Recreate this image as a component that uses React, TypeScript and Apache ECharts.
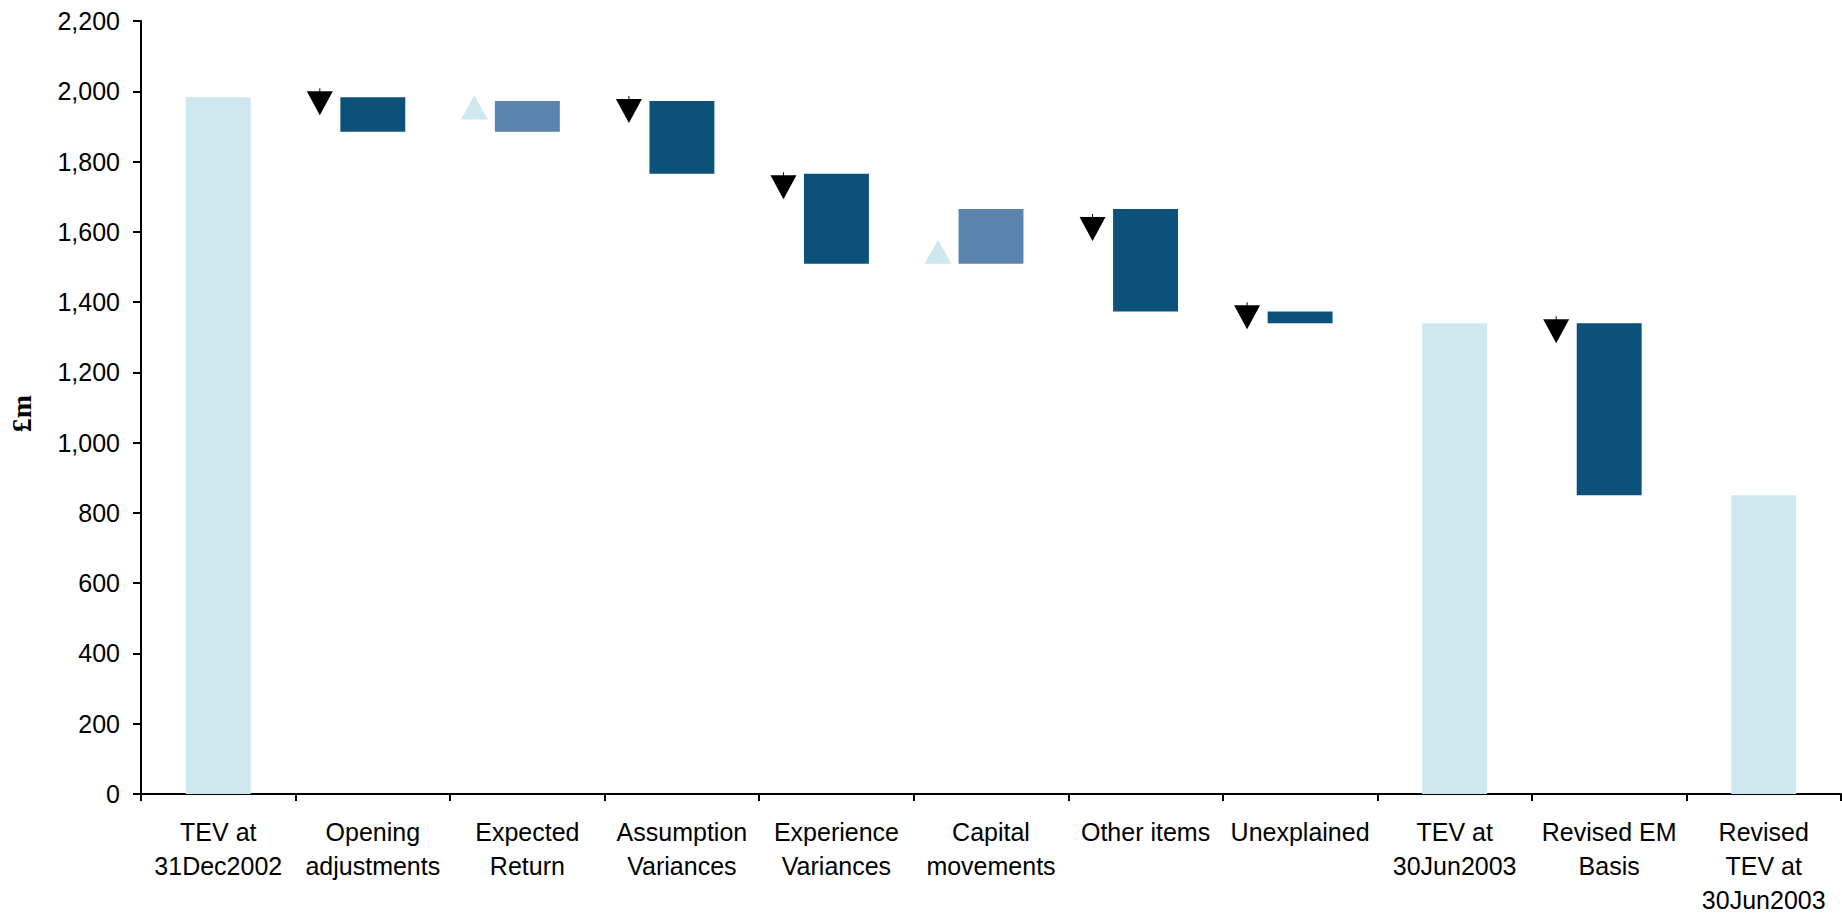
import React, { useEffect, useRef } from "react";
import * as echarts from "echarts";

const categories = [
  "TEV at\n31Dec2002",
  "Opening\nadjustments",
  "Expected\nReturn",
  "Assumption\nVariances",
  "Experience\nVariances",
  "Capital\nmovements",
  "Other items",
  "Unexplained",
  "TEV at\n30Jun2003",
  "Revised EM\nBasis",
  "Revised\nTEV at\n30Jun2003",
];

// totals are absolute values, changes are signed movements
const stepKinds = ["total", "change", "change", "change", "change", "change", "change", "change", "total", "change", "total"];
const stepValues = [1983, -98, 87, -207, -256, 156, -292, -33, 1340, -490, 850];

// direction markers drawn beside each movement bar
const downMarkerValues = [null, 1970, null, 1948, 1731, null, 1612, 1361, null, 1321, null];
const upMarkerValues = [null, null, 1954, null, null, 1543, null, null, null, null, null];

const yTicks = { min: 0, max: 2200, interval: 200 };

const COLOR_TOTAL = "#cfe7ee";
const COLOR_DOWN = "#0b5179";
const COLOR_UP = "#5a83ad";
const FONT = "'Liberation Sans', Arial, Helvetica, sans-serif";

function buildWaterfall() {
  const base: number[] = [];
  const height: any[] = [];
  let running = 0;
  stepValues.forEach((v, i) => {
    if (stepKinds[i] === "total") {
      base.push(0);
      height.push({ value: v, itemStyle: { color: COLOR_TOTAL } });
      running = v;
    } else if (v < 0) {
      base.push(running + v);
      height.push({ value: -v, itemStyle: { color: COLOR_DOWN } });
      running += v;
    } else {
      base.push(running);
      height.push({ value: v, itemStyle: { color: COLOR_UP } });
      running += v;
    }
  });
  return { base, height };
}

export default function App() {
  const ref = useRef<HTMLDivElement>(null);
  useEffect(() => {
    if (!ref.current) return;
    const chart = echarts.init(ref.current, null, { renderer: "svg" });
    const { base, height } = buildWaterfall();
    chart.setOption({
      animation: false,
      backgroundColor: "#ffffff",
      grid: { left: 141, right: 1, top: 21, bottom: 124, containLabel: false, outerBoundsMode: "none" },
      xAxis: {
        type: "category",
        data: categories,
        boundaryGap: true,
        axisLine: { show: true, lineStyle: { color: "#000", width: 2 } },
        axisTick: { show: true, length: 7, lineStyle: { color: "#000", width: 2 } },
        axisLabel: {
          interval: 0,
          color: "#000",
          fontFamily: FONT,
          fontSize: 25,
          lineHeight: 34,
          margin: 21,
        },
        splitLine: { show: false },
      },
      yAxis: {
        type: "value",
        min: yTicks.min,
        max: yTicks.max,
        interval: yTicks.interval,
        name: "£m",
        nameLocation: "middle",
        nameRotate: 90,
        nameGap: 106,
        nameTextStyle: {
          fontFamily: "'Liberation Serif', 'Times New Roman', serif",
          fontWeight: "bold",
          fontSize: 28,
          color: "#000",
          padding: [0, 12, 0, 0],
        },
        axisLine: { show: true, lineStyle: { color: "#000", width: 2 } },
        axisTick: { show: true, length: 8, lineStyle: { color: "#000", width: 2 } },
        axisLabel: {
          color: "#000",
          fontFamily: FONT,
          fontSize: 25,
          margin: 21,
          formatter: (v: number) => v.toLocaleString("en-US"),
        },
        splitLine: { show: false },
      },
      series: [
        { name: "base", type: "bar", stack: "w", barWidth: "42%", silent: true, itemStyle: { color: "rgba(0,0,0,0)" }, data: base },
        { name: "value", type: "bar", stack: "w", barWidth: "42%", data: height },
        {
          name: "down",
          type: "scatter",
          symbol: "path://M12.5,0 L13.5,0 L13.5,3 L26,3 L13,27 L0,3 L12.5,3 Z",
          symbolSize: [26, 27],
          symbolOffset: [-53, 0],
          itemStyle: { color: "#000", opacity: 1 },
          data: downMarkerValues.map((v) => (v == null ? "-" : v)),
        },
        {
          name: "up",
          type: "scatter",
          symbol: "triangle",
          symbolSize: [27, 24],
          symbolOffset: [-53, 0],
          itemStyle: { color: COLOR_TOTAL, opacity: 1 },
          data: upMarkerValues.map((v) => (v == null ? "-" : v)),
        },
      ],
    });
    return () => chart.dispose();
  }, []);
  return (
    <div
      ref={ref}
      style={{ position: "fixed", left: 0, top: 0, width: 1842, height: 918, background: "#fff" }}
    />
  );
}
